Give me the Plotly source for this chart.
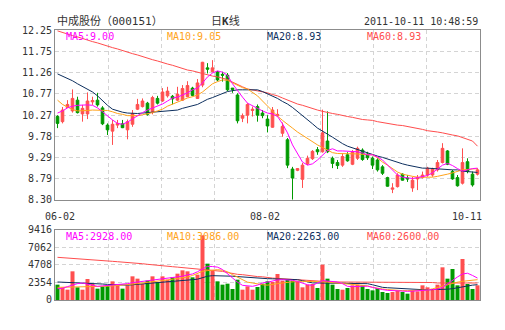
import plotly.graph_objects as go

# ---------------- data ----------------
date_labels = ["06-02", "08-02", "10-11"]
date_index = [0, 41, 84]

open_ = [10.24, 10.12, 10.45, 10.37, 10.62, 10.30, 10.30, 10.58, 10.62, 10.44,
         10.04, 9.90, 10.04, 10.07, 9.93, 10.06, 10.41, 10.47, 10.55, 10.34,
         10.66, 10.60, 10.72, 10.71, 10.62, 10.62, 10.70, 10.90, 10.66, 10.97,
         11.37, 11.28, 11.28, 11.22, 11.20, 10.90, 10.74, 10.20, 10.27, 10.38,
         10.47, 10.32, 10.18, 9.99, 10.26, 9.85, 9.70, 9.02, 8.99, 8.78,
         9.14, 9.26, 9.47, 9.42, 9.67, 9.27, 9.17, 9.11, 9.35, 9.13,
         9.27, 9.46, 9.37, 9.27, 9.23, 9.07, 8.82, 8.55, 8.61, 8.90,
         8.81, 8.58, 8.79, 8.82, 8.88, 8.88, 9.00, 9.17, 9.44, 8.96,
         8.82, 8.69, 9.19, 8.90, 8.90]
high_ = [10.27, 10.46, 10.62, 10.87, 10.70, 10.51, 10.80, 10.70, 10.79, 10.48,
         10.08, 10.16, 10.16, 10.16, 10.17, 10.39, 10.65, 10.66, 10.58, 10.72,
         10.72, 10.90, 10.93, 10.74, 10.93, 10.97, 11.06, 10.93, 11.11, 11.51,
         11.48, 11.55, 11.30, 11.28, 11.25, 10.90, 10.78, 10.31, 10.55, 10.47,
         10.52, 10.39, 10.27, 10.46, 10.41, 10.10, 9.74, 9.07, 9.04, 9.16,
         9.33, 9.46, 9.53, 10.40, 10.36, 9.31, 9.23, 9.38, 9.41, 9.46,
         9.54, 9.50, 9.42, 9.31, 9.27, 9.11, 8.84, 8.69, 8.92, 8.92,
         8.88, 8.84, 8.88, 8.96, 9.07, 9.05, 9.23, 9.62, 9.46, 9.00,
         8.88, 9.50, 9.27, 8.96, 9.04]
low_ = [9.97, 10.08, 10.44, 10.33, 10.31, 10.12, 10.18, 10.51, 10.47, 10.04,
        9.81, 9.58, 9.97, 9.97, 9.71, 10.00, 10.39, 10.45, 10.26, 10.29,
        10.52, 10.58, 10.68, 10.52, 10.60, 10.60, 10.69, 10.71, 10.65, 10.92,
        11.24, 11.27, 11.06, 11.05, 10.83, 10.79, 10.08, 10.11, 10.08, 10.24,
        10.12, 10.20, 9.87, 9.98, 10.23, 9.77, 9.04, 8.31, 8.97, 8.58,
        9.11, 9.23, 9.35, 9.40, 9.39, 9.04, 9.02, 9.07, 9.19, 9.11,
        9.23, 9.21, 9.23, 9.02, 8.96, 8.88, 8.61, 8.46, 8.59, 8.75,
        8.72, 8.49, 8.53, 8.80, 8.84, 8.84, 8.96, 9.15, 9.11, 8.77,
        8.61, 8.66, 8.92, 8.61, 8.87]
close_ = [10.08, 10.39, 10.52, 10.66, 10.33, 10.43, 10.60, 10.61, 10.51, 10.07,
          9.93, 10.06, 10.08, 9.98, 10.12, 10.31, 10.52, 10.60, 10.29, 10.68,
          10.55, 10.81, 10.83, 10.65, 10.76, 10.89, 10.96, 10.73, 11.02, 11.50,
          11.34, 11.37, 11.09, 11.20, 10.86, 10.87, 10.14, 10.26, 10.52, 10.41,
          10.27, 10.26, 10.02, 10.39, 10.29, 10.01, 9.11, 8.81, 9.03, 9.11,
          9.27, 9.43, 9.42, 9.86, 9.42, 9.15, 9.10, 9.31, 9.21, 9.42,
          9.50, 9.24, 9.28, 9.11, 9.00, 8.92, 8.62, 8.58, 8.88, 8.76,
          8.79, 8.76, 8.82, 8.88, 9.04, 9.02, 9.17, 9.50, 9.13, 8.79,
          8.63, 9.17, 8.96, 8.65, 9.00]

ma5 = [10.32, 10.37, 10.44, 10.48, 10.50, 10.51, 10.51, 10.50, 10.44, 10.35,
       10.25, 10.16, 10.08, 10.06, 10.11, 10.19, 10.27, 10.33, 10.39, 10.44,
       10.48, 10.53, 10.60, 10.67, 10.69, 10.74, 10.79, 10.86, 10.90, 11.02,
       11.16, 11.25, 11.30, 11.27, 11.20, 11.00, 10.83, 10.69, 10.55, 10.48,
       10.43, 10.37, 10.32, 10.30, 10.24, 10.07, 9.86, 9.58, 9.39, 9.18,
       9.11, 9.14, 9.23, 9.33, 9.45, 9.49, 9.44, 9.44, 9.43, 9.42,
       9.42, 9.39, 9.35, 9.35, 9.30, 9.23, 9.11, 9.00, 8.88, 8.83,
       8.81, 8.80, 8.82, 8.85, 8.87, 8.93, 9.02, 9.11, 9.15, 9.10,
       9.03, 8.97, 9.00, 9.03, 9.04]
ma10 = [10.62, 10.52, 10.46, 10.40, 10.37, 10.37, 10.38, 10.39, 10.39, 10.39,
        10.38, 10.35, 10.31, 10.29, 10.26, 10.26, 10.26, 10.28, 10.30, 10.33,
        10.37, 10.41, 10.48, 10.53, 10.58, 10.62, 10.67, 10.70, 10.74, 10.81,
        10.90, 11.00, 11.05, 11.09, 11.08, 11.02, 10.96, 10.91, 10.88, 10.81,
        10.72, 10.60, 10.48, 10.37, 10.25, 10.15, 10.05, 9.97, 9.88, 9.80,
        9.73, 9.65, 9.58, 9.52, 9.45, 9.40, 9.38, 9.38, 9.38, 9.38,
        9.37, 9.36, 9.35, 9.35, 9.28, 9.18, 9.11, 9.03, 8.95, 8.90,
        8.87, 8.85, 8.83, 8.83, 8.83, 8.83, 8.85, 8.87, 8.90, 8.93,
        8.96, 9.00, 9.01, 9.02, 9.03]
ma20 = [11.23, 11.18, 11.12, 11.07, 11.00, 10.94, 10.88, 10.81, 10.72, 10.60,
        10.50, 10.41, 10.37, 10.34, 10.32, 10.31, 10.31, 10.32, 10.33, 10.35,
        10.35, 10.36, 10.37, 10.38, 10.39, 10.43, 10.46, 10.48, 10.52, 10.58,
        10.64, 10.68, 10.73, 10.77, 10.82, 10.84, 10.86, 10.86, 10.86, 10.86,
        10.86, 10.82, 10.77, 10.72, 10.66, 10.59, 10.53, 10.45, 10.36, 10.26,
        10.16, 10.07, 9.97, 9.89, 9.83, 9.76, 9.68, 9.61, 9.55, 9.51,
        9.47, 9.44, 9.39, 9.36, 9.32, 9.29, 9.25, 9.21, 9.17, 9.14,
        9.11, 9.09, 9.07, 9.04, 9.04, 9.03, 9.02, 9.02, 9.01, 9.00,
        9.00, 8.97, 8.96, 8.95, 8.94]
ma60 = [12.23, 12.19, 12.16, 12.12, 12.09, 12.05, 12.02, 11.98, 11.95, 11.91,
        11.88, 11.84, 11.81, 11.77, 11.74, 11.70, 11.67, 11.63, 11.60, 11.56,
        11.53, 11.49, 11.46, 11.43, 11.39, 11.36, 11.32, 11.30, 11.27, 11.24,
        11.20, 11.18, 11.16, 11.13, 11.10, 11.04, 10.98, 10.93, 10.88, 10.86,
        10.84, 10.82, 10.79, 10.75, 10.72, 10.67, 10.62, 10.58, 10.53, 10.50,
        10.46, 10.43, 10.39, 10.36, 10.33, 10.31, 10.29, 10.26, 10.24, 10.22,
        10.19, 10.17, 10.16, 10.15, 10.12, 10.10, 10.08, 10.05, 10.04, 10.03,
        10.01, 9.98, 9.96, 9.94, 9.91, 9.90, 9.88, 9.86, 9.83, 9.81,
        9.79, 9.75, 9.72, 9.67, 9.55]

volume = [2063, 1704, 1390, 3856, 1704, 1390, 2825, 2152, 1525, 1838,
          1973, 2511, 1973, 1525, 1973, 3184, 2870, 2152, 2601, 3184,
          2421, 3184, 2735, 3049, 3542, 3991, 3856, 3049, 3408, 8699,
          4888, 3946, 2511, 2063, 2197, 1480, 2735, 1390, 1838, 1390,
          1749, 2197, 2511, 2421, 3498, 2601, 2735, 2601, 2511, 1704,
          2063, 2152, 1614, 4753, 2870, 2063, 1480, 1390, 1614, 1973,
          2063, 1973, 1480, 1300, 1614, 1076, 942, 1076, 1256, 1076,
          852, 1256, 1166, 1973, 1704, 1390, 2063, 4394, 2870, 4170,
          1973, 5515, 2152, 1480, 1973]
vma5 = [1525, 1570, 1800, 2000, 2200, 2287, 2150, 1950, 1840, 1900,
        1950, 2000, 2040, 2063, 2200, 2330, 2420, 2500, 2600, 2700,
        2760, 2830, 2900, 3000, 3100, 3200, 3380, 3500, 3800, 4200,
        4529, 4500, 4420, 4100, 3500, 2960, 2400, 1973, 1900, 1840,
        2000, 2300, 2400, 2550, 2700, 2735, 2700, 2650, 2500, 2300,
        2050, 1973, 2300, 2600, 2550, 2450, 2421, 2200, 1838, 1800,
        1840, 1900, 1860, 1700, 1500, 1400, 1300, 1250, 1180, 1166,
        1170, 1190, 1210, 1260, 1330, 1400, 1450, 1700, 2200, 2700,
        3100, 3500, 3600, 3300, 2950]
vma10 = [1704, 1720, 1740, 1750, 1720, 1710, 1704, 1720, 1750, 1800,
         1850, 1900, 1950, 1973, 2050, 2120, 2200, 2300, 2400, 2511,
         2560, 2620, 2700, 2800, 2880, 2959, 3100, 3300, 3550, 3850,
         3950, 4050, 4080, 4000, 3800, 3408, 3100, 2700, 2400, 2287,
         2150, 2050, 2000, 2063, 2200, 2300, 2400, 2450, 2511, 2511,
         2511, 2511, 2511, 2450, 2400, 2350, 2287, 2240, 2200, 2150,
         2063, 2000, 1900, 1700, 1550, 1480, 1400, 1330, 1280, 1256,
         1256, 1260, 1270, 1290, 1350, 1500, 1700, 1838, 2000, 2200,
         2400, 2511, 2600, 2700, 2735]
vma20 = [2421, 2400, 2380, 2350, 2320, 2300, 2287, 2250, 2200, 2150,
         2100, 2050, 2000, 1973, 2000, 2050, 2100, 2180, 2250, 2287,
         2330, 2380, 2430, 2511, 2560, 2620, 2680, 2735, 2800, 3000,
         3200, 3273, 3273, 3273, 3273, 3200, 3150, 3094, 3000, 2950,
         2920, 2890, 2870, 2850, 2820, 2800, 2780, 2750, 2735, 2600,
         2450, 2300, 2287, 2270, 2260, 2250, 2240, 2230, 2220, 2210,
         2200, 2200, 2197, 2050, 1850, 1704, 1650, 1600, 1560, 1525,
         1480, 1440, 1400, 1390, 1390, 1390, 1390, 1390, 1450, 1525,
         1650, 1800, 1973, 2000, 2063]
vma60 = [5740, 5700, 5650, 5600, 5550, 5500, 5450, 5426, 5380, 5320,
         5260, 5200, 5150, 5112, 5050, 5000, 4950, 4880, 4800, 4720,
         4663, 4600, 4550, 4480, 4420, 4350, 4305, 4250, 4200, 4150,
         4050, 3980, 3946, 3850, 3700, 3550, 3450, 3408, 3300, 3200,
         3150, 3120, 3000, 2950, 2900, 2850, 2800, 2750, 2700, 2650,
         2600, 2550, 2511, 2480, 2450, 2430, 2421, 2421, 2421, 2421,
         2421, 2421, 2421, 2421, 2421, 2421, 2421, 2421, 2421, 2421,
         2421, 2421, 2421, 2421, 2421, 2350, 2287, 2287, 2287, 2287,
         2287, 2287, 2287, 2287, 2287]

price_ticks = ["8.30", "8.79", "9.29", "9.78", "10.27", "10.77", "11.26", "11.75", "12.25"]
price_min, price_max = 8.30, 12.25
vol_ticks = ["0", "2354", "4708", "7062", "9416"]
vol_max = 9416

title_name = "中成股份（000151）"
title_kind = "日<b>K</b>线"
title_time = "2011-10-11 10:48:59"
price_ma_text = ["MA5:9.00", "MA10:9.05", "MA20:8.93", "MA60:8.93"]
vol_ma_text = ["MA5:2928.00", "MA10:3086.00", "MA20:2263.00", "MA60:2600.00"]

# ---------------- style ----------------
RED = "#ff4f4f"
GREEN = "#009a00"
MA_COLORS = ["#ff00ff", "#ffa31a", "#0d2f5e", "#ff4d4d"]
GRID = "#d4d4d4"
FRAME = "#8c8c8c"
TXT = "#333333"
FONT = "DejaVu Sans Mono, Noto Sans CJK SC, monospace"

n = len(close_)
idx = list(range(n))
bar_colors = [RED if c >= o else GREEN for o, c in zip(open_, close_)]

fig = go.Figure()
fig.add_trace(go.Candlestick(
    x=idx, open=open_, high=high_, low=low_, close=close_,
    xaxis="x", yaxis="y", whiskerwidth=0,
    increasing=dict(line=dict(color=RED, width=1), fillcolor=RED),
    decreasing=dict(line=dict(color=GREEN, width=1), fillcolor=GREEN),
    showlegend=False, hoverinfo="skip"))
for vals, col in zip([ma60, ma20, ma10, ma5], MA_COLORS[::-1]):
    fig.add_trace(go.Scatter(x=idx, y=vals, mode="lines", xaxis="x", yaxis="y",
                             line=dict(color=col, width=1), showlegend=False, hoverinfo="skip"))

fig.add_trace(go.Bar(x=idx, y=volume, xaxis="x2", yaxis="y2", width=0.8,
                     marker=dict(color=bar_colors, line=dict(width=0)),
                     showlegend=False, hoverinfo="skip"))
for vals, col in zip([vma60, vma20, vma10, vma5], MA_COLORS[::-1]):
    fig.add_trace(go.Scatter(x=idx, y=vals, mode="lines", xaxis="x2", yaxis="y2",
                             line=dict(color=col, width=1), showlegend=False, hoverinfo="skip"))

x_range = [-0.5, n - 0.5]
x_grid = [x_range[0] + (x_range[1] - x_range[0]) * k / 8 for k in range(1, 8)]
p_step = (price_max - price_min) / 8
p_vals = [price_min + k * p_step for k in range(9)]
v_vals = [k * vol_max / 4 for k in range(5)]

axis_common = dict(showline=True, mirror=True, linecolor=FRAME, linewidth=1,
                   showgrid=True, gridcolor=GRID, gridwidth=1, griddash="4px,3px",
                   zeroline=False, ticks="", fixedrange=True,
                   tickfont=dict(family=FONT, size=10, color=TXT))

fig.update_layout(
    width=505, height=330,
    margin=dict(l=55, r=25, t=30, b=30),
    paper_bgcolor="white", plot_bgcolor="white",
    boxgap=0.25,
    bargap=0.2,
    xaxis=dict(domain=[0, 1], anchor="y", range=x_range, tickvals=x_grid,
               showticklabels=False, rangeslider=dict(visible=False), **axis_common),
    yaxis=dict(domain=[0.3704, 1], anchor="x", range=[price_min, price_max],
               tickvals=p_vals, ticktext=price_ticks, **axis_common),
    xaxis2=dict(domain=[0, 1], anchor="y2", range=x_range, tickvals=x_grid,
                showticklabels=False, **axis_common),
    yaxis2=dict(domain=[0, 0.2593], anchor="x2", range=[0, vol_max],
                tickvals=v_vals, ticktext=vol_ticks, **axis_common),
)

ann = []
hdr_font = dict(family=FONT, size=10, color=TXT)
ann.append(dict(text=title_name, x=0, y=1.0315, xref="paper", yref="paper",
                xanchor="left", yanchor="middle", showarrow=False,
                font=dict(family=FONT, size=11, color=TXT)))
ann.append(dict(text=title_kind, x=0.4, y=1.0315, xref="paper", yref="paper",
                xanchor="center", yanchor="middle", showarrow=False,
                font=dict(family=FONT, size=11, color=TXT)))
ann.append(dict(text=title_time, x=1.0, y=1.0315, xref="paper", yref="paper",
                xanchor="right", yanchor="middle", showarrow=False, font=hdr_font))
lbl_x = [0.0219, 0.2588, 0.494, 0.7294]
for t, c, lx in zip(price_ma_text, MA_COLORS, lbl_x):
    ann.append(dict(text=t, x=lx, y=0.9752, xref="paper", yref="paper",
                    xanchor="left", yanchor="middle", showarrow=False,
                    font=dict(family=FONT, size=10, color=c)))
for t, c, lx in zip(vol_ma_text, MA_COLORS, lbl_x):
    ann.append(dict(text=t, x=lx, y=0.2344, xref="paper", yref="paper",
                    xanchor="left", yanchor="middle", showarrow=False,
                    font=dict(family=FONT, size=10, color=c)))
anchors = ["center", "center", "right"]
shifts = [2, 2, 6]
for t, xi, a, s in zip(date_labels, date_index, anchors, shifts):
    ann.append(dict(text=t, x=xi, y=0.3085, xref="x", yref="paper",
                    xanchor=a, yanchor="middle", xshift=s, showarrow=False,
                    font=dict(family=FONT, size=10, color=TXT)))
fig.update_layout(annotations=ann)

fig.write_html("out.html")
